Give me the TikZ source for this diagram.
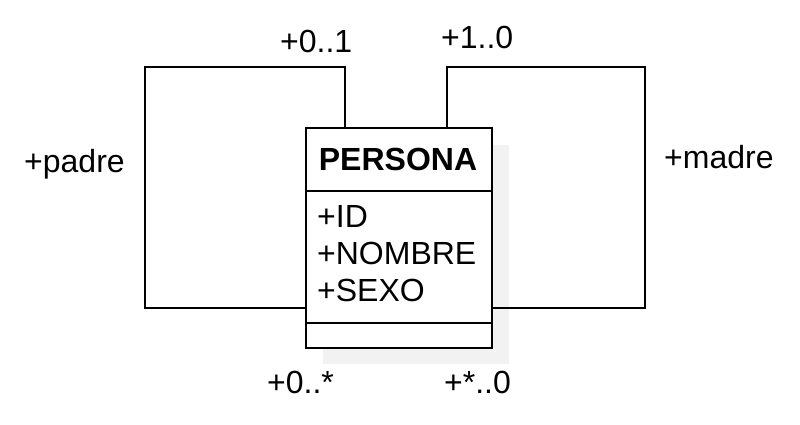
\documentclass[tikz,border=0pt]{standalone}
\usepackage{fontspec}
\setmainfont{Liberation Sans}
\usetikzlibrary{calc}
\begin{document}
\begin{tikzpicture}[x=1pt,y=-1pt,
  lbl/.style={inner sep=0pt,anchor=base west,font=\fontsize{32}{37}\selectfont},
  part/.style={draw=black,line width=1.8pt,fill=white,minimum width=186pt,inner sep=0pt,anchor=north west},
  conn/.style={draw=black,line width=1.8pt}]
\useasboundingbox (0,0) rectangle (800,425);
\fill[black!5] (323,145) rectangle (509,364);
\node[part,minimum height=63pt] (hdr) at (305,127) {};
\node[part,minimum height=132pt] (attrs) at (305,190) {};
\node[part,minimum height=25pt] (ftr) at (305,322) {};
\node[inner sep=0pt,anchor=base,font=\fontsize{32}{37}\selectfont\bfseries] (title) at (398,170.5) {PERSONA};
\node[lbl] (a1) at (317,227) {+ID};
\node[lbl] (a2) at (317,264) {+NOMBRE};
\node[lbl] (a3) at (317,301) {+SEXO};
\coordinate (lc) at (145,67);
\coordinate (rc) at (645,67);
\draw[conn] ([xshift=40pt]hdr.north west) |- (lc) |- ([yshift=16pt]attrs.south west);
\draw[conn] ([xshift=-46pt]hdr.north east) |- (rc) |- ([yshift=16pt]attrs.south east);
\node[lbl] (m1) at (280,53) {+0..1};
\node[lbl] (m2) at (441,49) {+1..0};
\node[lbl] (r1) at (24,172) {+padre};
\node[lbl] (r2) at (664,168) {+madre};
\node[lbl] (m3) at (267,393) {+0..*};
\node[lbl] (m4) at (444,393) {+*..0};
\end{tikzpicture}
\end{document}
